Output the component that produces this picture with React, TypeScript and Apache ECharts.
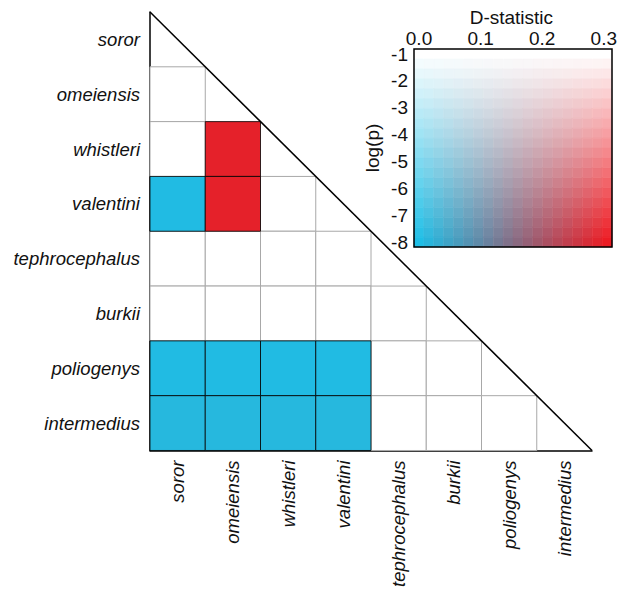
import React, { useEffect, useRef } from "react";
import * as echarts from "echarts";

const species = [
  "soror",
  "omeiensis",
  "whistleri",
  "valentini",
  "tephrocephalus",
  "burkii",
  "poliogenys",
  "intermedius",
];

// Lower triangle, row by row: row i holds columns 0..i-1
const dStatistic: number[][] = [
  [],
  [0.02],
  [0.03, 0.29],
  [0.005, 0.29, 0.04],
  [0.02, 0.03, 0.02, 0.01],
  [0.01, 0.02, 0.03, 0.02, 0.01],
  [0.005, 0.005, 0.005, 0.005, 0.02, 0.01],
  [0.012, 0.012, 0.012, 0.012, 0.02, 0.01, 0.03],
];
const logP: number[][] = [
  [],
  [-0.4],
  [-0.5, -8],
  [-8, -8, -0.6],
  [-0.3, -0.4, -0.5, -0.2],
  [-0.3, -0.2, -0.4, -0.3, -0.5],
  [-8, -8, -8, -8, -0.3, -0.4],
  [-8, -8, -8, -8, -0.2, -0.3, -0.5],
];

const dTicks = [0, 0.1, 0.2, 0.3];
const logPTicks = [-1, -2, -3, -4, -5, -6, -7, -8];
const legendSteps = 20;

const LOW = [30, 190, 230];
const HIGH = [236, 28, 36];
const FONT = "'Liberation Sans', Arial, Helvetica, sans-serif";

const clamp = (v: number) => Math.max(0, Math.min(1, v));
const dMin = dTicks[0];
const dMax = dTicks[dTicks.length - 1];
const pTop = logPTicks[0];
const pBottom = logPTicks[logPTicks.length - 1];

function keyColor(d: number, lp: number): string {
  const f = clamp((d - dMin) / (dMax - dMin));
  const t = clamp((pTop - lp) / (pTop - pBottom));
  const c = [0, 1, 2].map((k) => {
    const bottom = LOW[k] + (HIGH[k] - LOW[k]) * f;
    return Math.round(255 + (bottom - 255) * t);
  });
  return `rgb(${c[0]},${c[1]},${c[2]})`;
}

function cellRenderer(withBorder: boolean) {
  return (_params: any, api: any) => {
    const x = api.value(0);
    const y = api.value(1);
    const d = api.value(2);
    const lp = api.value(3);
    const c = api.coord([x, y]);
    const s = api.size([1, 1]);
    const significant = lp < pTop;
    return {
      type: "rect",
      shape: { x: c[0] - s[0] / 2, y: c[1] - s[1] / 2, width: s[0], height: s[1] },
      style: {
        fill: keyColor(d, lp),
        stroke: withBorder
          ? significant
            ? "rgba(0,0,0,0.8)"
            : "#a8a8a8"
          : keyColor(d, lp),
        lineWidth: withBorder ? 1 : 0.5,
      },
    };
  };
}

export default function App() {
  const ref = useRef<HTMLDivElement>(null);
  useEffect(() => {
    if (!ref.current) return;
    const chart = echarts.init(ref.current, null, { renderer: "svg" });

    const whiteCells: number[][] = [];
    const colorCells: number[][] = [];
    dStatistic.forEach((row, i) => {
      row.forEach((d, j) => {
        const lp = logP[i][j];
        (lp < pTop ? colorCells : whiteCells).push([j, i, d, lp]);
      });
    });

    const legendCols: string[] = [];
    const legendRows: string[] = [];
    const legendData: number[][] = [];
    for (let i = 0; i < legendSteps; i++) {
      legendCols.push(String(i));
      legendRows.push(String(i));
    }
    for (let i = 0; i < legendSteps; i++) {
      for (let j = 0; j < legendSteps; j++) {
        const d = dMin + ((dMax - dMin) * i) / (legendSteps - 1);
        const lp = pTop - ((pTop - pBottom) * j) / (legendSteps - 1);
        legendData.push([i, j, d, lp]);
      }
    }

    const labelStyle = {
      fontFamily: FONT,
      fontStyle: "italic" as const,
      fontSize: 18.5,
      color: "#111",
    };
    const legendText = { fontFamily: FONT, fontSize: 19, color: "#111" };

    chart.setOption({
      animation: false,
      backgroundColor: "#fff",
      grid: [
        { left: 150, top: 12, width: 442, height: 441 },
        {
          left: 414,
          top: 49,
          width: 198,
          height: 198,
          show: true,
          borderColor: "#000",
          borderWidth: 1.5,
          backgroundColor: "transparent",
          z: 10,
        },
        { left: 419, top: 54, width: 188, height: 188 },
      ],
      xAxis: [
        {
          type: "category",
          gridIndex: 0,
          data: species,
          position: "bottom",
          axisLine: { onZero: false, lineStyle: { color: "#000", width: 1.5 } },
          axisTick: { show: false },
          splitLine: { show: false },
          axisLabel: { ...labelStyle, rotate: 90, margin: 10 },
        },
        { type: "value", gridIndex: 0, min: 0, max: 8, show: false },
        { type: "category", gridIndex: 1, data: legendCols, show: false },
        {
          type: "value",
          gridIndex: 2,
          position: "top",
          min: 0,
          max: 0.3,
          interval: 0.1,
          axisLine: { show: false },
          axisTick: { show: false },
          splitLine: { show: false },
          axisLabel: {
            ...legendText,
            margin: 6,
            formatter: (v: number) => v.toFixed(1),
          },
          name: "D-statistic",
          nameLocation: "middle",
          nameGap: 27,
          nameTextStyle: legendText,
        },
      ],
      yAxis: [
        {
          type: "category",
          gridIndex: 0,
          data: species,
          inverse: true,
          axisLine: { onZero: false, lineStyle: { color: "#000", width: 1.5 } },
          axisTick: { show: false },
          splitLine: { show: false },
          axisLabel: { ...labelStyle, margin: 10 },
        },
        { type: "value", gridIndex: 0, min: 0, max: 8, inverse: true, show: false },
        { type: "category", gridIndex: 1, data: legendRows, inverse: true, show: false },
        {
          type: "value",
          gridIndex: 2,
          min: -8,
          max: -1,
          interval: 1,
          axisLine: { show: false },
          axisTick: { show: false },
          splitLine: { show: false },
          axisLabel: { ...legendText, margin: 11 },
          name: "log(p)",
          nameLocation: "middle",
          nameGap: 37,
          nameRotate: 90,
          nameTextStyle: legendText,
        },
      ],
      series: [
        {
          type: "custom",
          xAxisIndex: 0,
          yAxisIndex: 0,
          data: whiteCells,
          encode: { x: 0, y: 1 },
          renderItem: cellRenderer(true),
          silent: true,
          z: 2,
        },
        {
          type: "custom",
          xAxisIndex: 0,
          yAxisIndex: 0,
          data: colorCells,
          encode: { x: 0, y: 1 },
          renderItem: cellRenderer(true),
          silent: true,
          z: 3,
        },
        {
          type: "line",
          xAxisIndex: 1,
          yAxisIndex: 1,
          data: [
            [0, 0],
            [8, 8],
          ],
          symbol: "none",
          silent: true,
          lineStyle: { color: "#000", width: 1.5 },
          z: 5,
        },
        {
          type: "custom",
          xAxisIndex: 2,
          yAxisIndex: 2,
          data: legendData,
          encode: { x: 0, y: 1 },
          renderItem: cellRenderer(false),
          silent: true,
          z: 2,
        },
      ],
    });
    return () => chart.dispose();
  }, []);

  return (
    <div
      ref={ref}
      style={{ position: "fixed", left: 0, top: 0, width: 620, height: 590 }}
    />
  );
}
